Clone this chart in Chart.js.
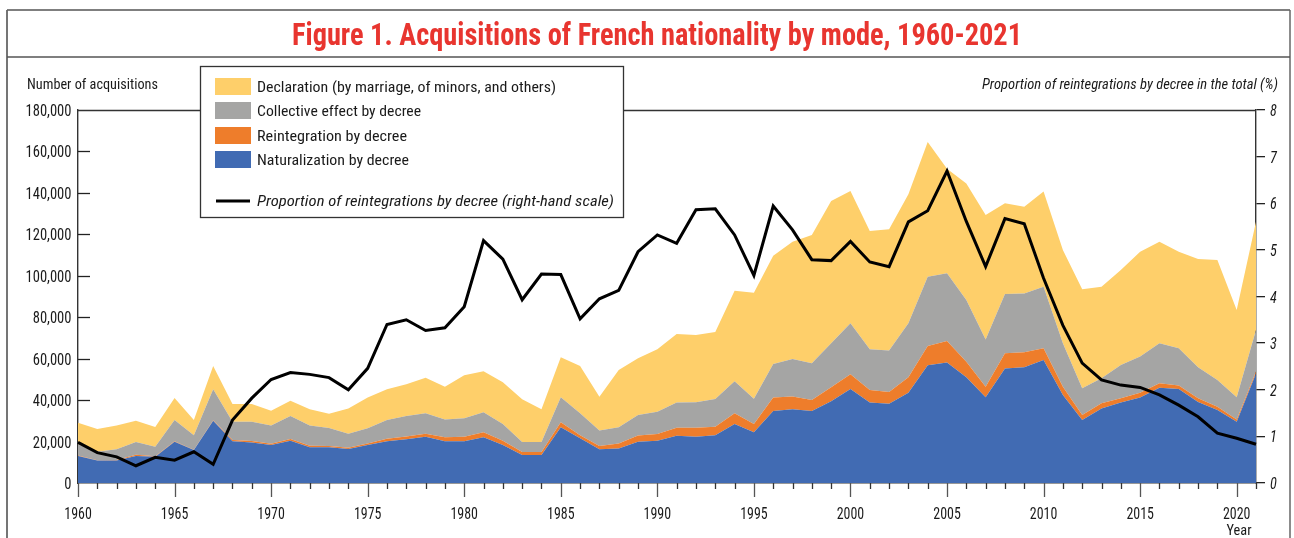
<!DOCTYPE html>
<html>
<head>
<meta charset="utf-8">
<script src="https://cdn.jsdelivr.net/npm/chart.js@4.4.1/dist/chart.umd.min.js"></script>
<style>
  html, body { margin: 0; padding: 0; background: #fff; }
  #wrap { width: 1294px; height: 538px; }
</style>
</head>
<body>
<div id="wrap"><canvas id="chart" width="1294" height="538"></canvas></div>
<script>
// ---------- data ----------
const years = [];
for (let y = 1960; y <= 2021; y++) years.push(y);

// naturalization by decree
const naturalization = [
  13000,10800,10900,13000,12700,19900,15900,30100,20100,19600,
  18300,20400,17200,17200,16400,18300,20100,21100,22300,20100,
  20100,22100,18300,13500,13500,26900,21600,16300,16700,19900,
  20400,22800,22300,23000,28500,24500,34700,35600,34700,39400,
  45400,38900,38300,43600,56800,58100,51000,41400,55300,55800,
  59400,42500,30400,36000,38800,41200,46000,45400,39100,35200,
  29600,52900
];
// reintegration by decree
const reintegration = [
  300,200,200,600,200,200,200,200,600,700,
  700,800,800,700,600,800,1200,1300,1500,2000,
  2200,2400,2100,1400,1400,2400,1500,1600,2400,3000,
  3200,3900,4400,4200,5100,4000,6500,6200,5400,6800,
  7100,6000,5600,7400,9300,10400,7500,5100,7300,7300,
  5600,4000,2400,2500,2100,2400,2100,1700,1800,1600,
  1100,900
];
// collective effect by decree
const collective = [
  5400,4100,5200,6200,4600,10300,6900,14900,8900,9300,
  8800,11100,9800,8600,6800,7300,9100,9900,9800,8600,
  8900,9600,8100,4900,4900,12100,10500,7400,7800,9900,
  10800,12200,12300,13300,15500,12200,16200,18000,17700,21200,
  24600,19600,20100,26100,33400,32700,29800,22800,28600,28400,
  29700,20900,12900,12000,16000,17400,19300,17900,14900,12900,
  10700,20000
];
// declaration (marriage, minors, others)
const declaration = [
  10400,10900,11500,10300,9500,10600,7400,11300,8500,8500,
  7100,7400,7800,6900,12100,14800,14800,15300,17200,15800,
  20800,19800,20100,20600,15800,19300,22900,16300,27600,27400,
  30100,33000,32400,32400,43700,51100,52300,56600,61900,68700,
  63800,57100,58400,62200,65100,50400,56200,60000,43800,41800,
  46000,45000,47800,44200,45900,50600,49000,46600,52300,57900,
  42100,52300
];
// proportion of reintegrations (%) - right-hand scale
const reintShare = [
  0.87,0.65,0.56,0.37,0.55,0.49,0.67,0.40,1.35,1.82,
  2.22,2.37,2.33,2.26,2.00,2.46,3.40,3.50,3.27,3.33,
  3.78,5.20,4.80,3.93,4.48,4.47,3.52,3.95,4.13,4.96,
  5.32,5.14,5.86,5.88,5.32,4.45,5.94,5.43,4.79,4.77,
  5.18,4.74,4.64,5.60,5.84,6.69,5.61,4.64,5.67,5.56,
  4.39,3.38,2.57,2.21,2.10,2.05,1.89,1.67,1.42,1.07,
  0.96,0.83
];

const leftTicks = [0,20000,40000,60000,80000,100000,120000,140000,160000,180000];
const rightTicks = [0,1,2,3,4,5,6,7,8];

const C_BLUE = '#416bb3', C_ORANGE = '#ee7d2b', C_GRAY = '#a5a5a4', C_YELLOW = '#fecf6a';
const FONT = '"Roboto Condensed", "DejaVu Sans Condensed", sans-serif';

// ---------- helpers ----------
// draw text squeezed / stretched to an exact width
function fitText(ctx, text, x, y, width, font, color, align){
  ctx.save();
  ctx.font = font;
  ctx.fillStyle = color;
  ctx.textBaseline = 'alphabetic';
  ctx.textAlign = 'left';
  const w0 = ctx.measureText(text).width;
  const k = width / w0;
  let x0 = x;
  if (align === 'center') x0 = x - width / 2;
  else if (align === 'right') x0 = x - width;
  ctx.translate(x0, y);
  ctx.scale(k, 1);
  ctx.fillText(text, 0, 0);
  ctx.restore();
}

function measure(ctx, text, font){
  ctx.save(); ctx.font = font;
  const w = ctx.measureText(text).width;
  ctx.restore();
  return w;
}

// tick label: squeeze factor calibrated on one reference label width
function tickText(ctx, text, x, y, align, font, k){
  fitText(ctx, text, x, y, measure(ctx, text, font) * k, font, '#1a1a1a', align);
}

function line(ctx, x1, y1, x2, y2, color, w){
  ctx.save();
  ctx.strokeStyle = color; ctx.lineWidth = w;
  ctx.beginPath(); ctx.moveTo(x1, y1); ctx.lineTo(x2, y2); ctx.stroke();
  ctx.restore();
}

// ---------- decorations plugin ----------
const decor = {
  id: 'decor',
  beforeDatasetsDraw(chart){
    const ctx = chart.ctx, a = chart.chartArea;
    const ys = chart.scales.y, xs = chart.scales.x;
    // inward ticks on the left axis
    leftTicks.forEach(v => {
      if (v === 0 || v === 180000) return;
      const py = Math.round(ys.getPixelForValue(v)) + 0.5;
      line(ctx, a.left, py, a.left + 12, py, '#222', 1.3);
    });
    // ticks under the x axis
    years.forEach((yr, i) => {
      const px = Math.round(xs.getPixelForValue(i)) + 0.5;
      const len = yr % 5 === 0 ? 14 : 6;
      line(ctx, px, a.bottom, px, a.bottom + len, yr % 5 === 0 ? '#555' : '#333', 1.3);
    });
  },
  afterDraw(chart){
    const ctx = chart.ctx, a = chart.chartArea;
    const ys = chart.scales.y, y1 = chart.scales.y1, xs = chart.scales.x;

    // tick labels, positioned with the chart scales
    const f = '16px ' + FONT, fi = 'italic 16px ' + FONT;
    const kL = 46 / measure(ctx, '180,000', f);
    const kX = 27.5 / measure(ctx, '1960', f);
    const kR = 6.8 / measure(ctx, '8', fi);
    leftTicks.forEach(v => {
      tickText(ctx, v.toLocaleString('en-US'), 71.5, ys.getPixelForValue(v) + 6, 'right', f, kL);
    });
    rightTicks.forEach(v => {
      tickText(ctx, String(v), 1270, y1.getPixelForValue(v) + 6, 'left', fi, kR);
    });
    years.forEach((yr, i) => {
      if (yr % 5 !== 0) return;
      tickText(ctx, String(yr), xs.getPixelForValue(i), 518.5, 'center', f, kX);
    });

    // outer frame
    line(ctx, 7, 10, 1290, 10, '#555', 1.5);
    line(ctx, 7, 10, 7, 538, '#666', 1.8);
    line(ctx, 1290, 10, 1290, 538, '#666', 1.5);
    line(ctx, 7, 57, 1290, 57, '#555', 1.5);
    // plot frame top
    line(ctx, a.left, a.top + 0.5, a.right, a.top + 0.5, '#333', 1.3);

    // title
    fitText(ctx, 'Figure 1. Acquisitions of French nationality by mode, 1960-2021',
      657, 45, 730, 'bold 32px ' + FONT, '#e8352f', 'center');
    // axis titles
    fitText(ctx, 'Number of acquisitions', 27, 89, 131, '15px ' + FONT, '#1a1a1a', 'left');
    fitText(ctx, 'Proportion of reintegrations by decree in the total (%)', 1278, 89, 296,
      'italic 15px ' + FONT, '#1a1a1a', 'right');
    fitText(ctx, 'Year', 1239, 535, 25, '15px ' + FONT, '#1a1a1a', 'center');

    // legend box
    ctx.save();
    ctx.fillStyle = '#fff';
    ctx.fillRect(200, 66, 423, 151);
    ctx.strokeStyle = '#333'; ctx.lineWidth = 1.3;
    ctx.strokeRect(200.5, 66.5, 423, 151);
    ctx.restore();
    const items = [
      ['Declaration (by marriage, of minors, and others)', C_YELLOW, 78, 299],
      ['Collective effect by decree', C_GRAY, 102, 164],
      ['Reintegration by decree', C_ORANGE, 127, 150],
      ['Naturalization by decree', C_BLUE, 151, 152]
    ];
    items.forEach(([txt, col, top, w]) => {
      ctx.fillStyle = col;
      ctx.fillRect(215, top, 36, 17);
      fitText(ctx, txt, 257, top + 14, w, '15px ' + FONT, '#1a1a1a', 'left');
    });
    line(ctx, 216, 201, 250, 201, '#000', 3);
    fitText(ctx, 'Proportion of reintegrations by decree (right-hand scale)', 257, 206, 357,
      'italic 15px ' + FONT, '#1a1a1a', 'left');
  }
};

// ---------- chart ----------
const areaDs = (label, data, color, fill) => ({
  type: 'line', label, data, yAxisID: 'y', order: 1,
  backgroundColor: color, borderColor: color, borderWidth: 0,
  pointRadius: 0, tension: 0, fill
});

new Chart(document.getElementById('chart').getContext('2d'), {
  type: 'line',
  data: {
    labels: years,
    datasets: [
      {
        label: 'Proportion of reintegrations by decree (right-hand scale)',
        data: reintShare, yAxisID: 'y1', order: 0,
        borderColor: '#000', borderWidth: 3, pointRadius: 0, tension: 0, fill: false,
        borderJoinStyle: 'miter'
      },
      areaDs('Naturalization by decree', naturalization, C_BLUE, 'origin'),
      areaDs('Reintegration by decree', reintegration, C_ORANGE, '-1'),
      areaDs('Collective effect by decree', collective, C_GRAY, '-1'),
      areaDs('Declaration (by marriage, of minors, and others)', declaration, C_YELLOW, '-1')
    ]
  },
  options: {
    responsive: false,
    animation: false,
    layout: { padding: { top: 110, left: 0, right: 0, bottom: 0 } },
    plugins: {
      legend: { display: false },
      title: { display: false },
      tooltip: { enabled: false }
    },
    scales: {
      x: {
        type: 'category',
        offset: false,
        grid: { display: false, drawTicks: false },
        border: { display: true, color: '#333', width: 1.4 },
        ticks: { display: false, autoSkip: false },
        afterFit: s => { s.height = 55; }
      },
      y: {
        position: 'left', stacked: true, min: 0, max: 180000,
        grid: { display: false, drawTicks: false },
        border: { display: true, color: '#333', width: 1.4 },
        afterBuildTicks: s => { s.ticks = leftTicks.map(v => ({ value: v })); },
        ticks: { display: false },
        afterFit: s => { s.width = 78; }
      },
      y1: {
        position: 'right', stacked: false, min: 0, max: 8,
        grid: { drawOnChartArea: false, drawTicks: true, tickLength: 9, color: '#222', lineWidth: 1.3 },
        border: { display: true, color: '#333', width: 1.4 },
        afterBuildTicks: s => { s.ticks = rightTicks.map(v => ({ value: v })); },
        ticks: { display: false },
        afterFit: s => { s.width = 38; }
      }
    }
  },
  plugins: [decor]
});
</script>
</body>
</html>
